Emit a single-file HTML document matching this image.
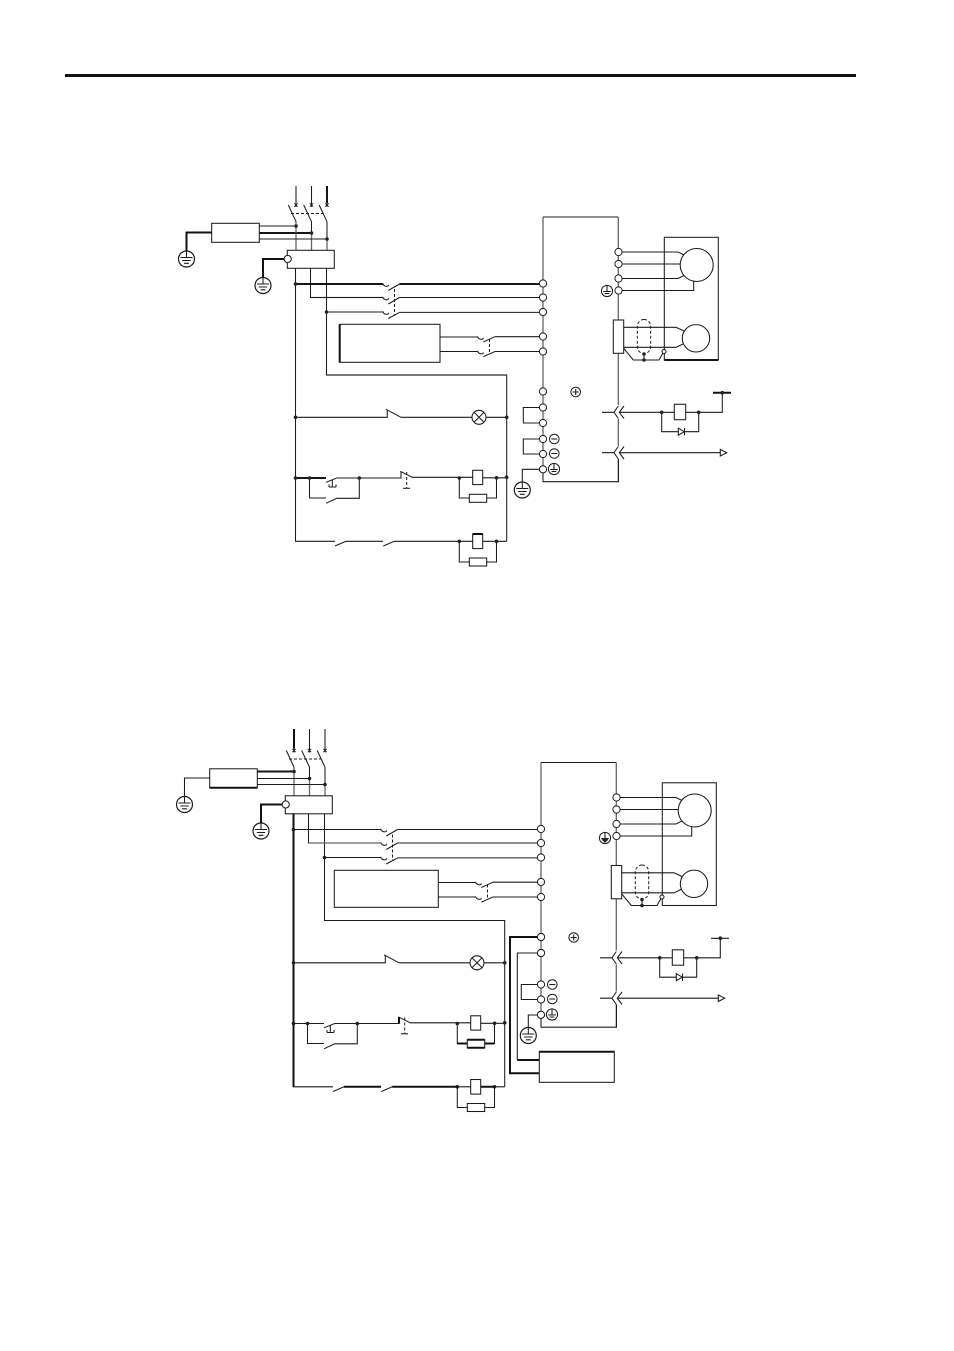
<!DOCTYPE html>
<html lang="en">
<head>
<meta charset="utf-8">
<title>Wiring diagram</title>
<style>
html,body{margin:0;padding:0;background:#fff;}
svg{display:block;}
.w{fill:none;stroke:#1c1c1c;stroke-width:1.05;stroke-linejoin:miter;}
.g{fill:none;stroke:#666;stroke-width:1.3;}
.t{fill:none;stroke:#111;stroke-width:2;}
.b{fill:#fff;stroke:#1c1c1c;stroke-width:1.05;}
.d{fill:none;stroke:#1c1c1c;stroke-width:1;stroke-dasharray:3 2;}
.n{fill:#222;stroke:none;}
</style>
</head>
<body>
<svg xmlns="http://www.w3.org/2000/svg" width="954" height="1351" viewBox="0 0 954 1351">
<defs>
  <g id="gnd">
    <circle r="8" fill="#fff" stroke="#1c1c1c" stroke-width="1.2"/>
    <path class="w" d="M0 -8V-1.5M-6 -1.5H6M-4.2 1.5H4.2M-2.4 4.3H2.4" stroke-width="1.2"/>
  </g>
  <g id="sg">
    <circle r="5.6" fill="#fff" stroke="#1c1c1c"/>
    <path class="w" d="M0 -5.5V0.5M-3.8 0.5H3.8M-2.4 2.5H2.4"/>
  </g>
  <circle id="c" r="3.6" fill="#fff" stroke="#1c1c1c" stroke-width="1"/>
  <circle id="nd" r="1.8" fill="#222"/>
  <g id="minus"><circle r="4.8" fill="#fff" stroke="#1c1c1c"/><path class="w" d="M-3 0H3"/></g>
  <g id="plus"><circle r="4.8" fill="#fff" stroke="#1c1c1c"/><path class="w" d="M-3 0H3M0 -3V3"/></g>
  <path id="star" d="M-1.7 -1.7L1.7 1.7M1.7 -1.7L-1.7 1.7M0 -2V2" fill="none" stroke="#1c1c1c" stroke-width="0.9"/>
  <path id="curl" d="M-3 -1.5Q-2 1.8 1.5 1.5Q3.2 1 2.5 0" fill="none" stroke="#1c1c1c" stroke-width="1"/>

  <g id="common">
    <!-- phases -->
    <path class="w" d="M296 186V205M311.5 186V205M327 186V205"/>
    <path class="w" d="M288.3 205L296 221.7V226M303.7 205L311.5 221.7V233M319.2 205L327 221.7V239"/>
    <path class="g" d="M296 222V250M311.5 234V250M327 240V250"/>
    <path class="d" d="M291 213.5H323"/>
    <use href="#star" x="296" y="205"/><use href="#star" x="311.5" y="205"/><use href="#star" x="327" y="205"/>
    <!-- filter -->
    <path class="w" d="M259 226H296M259 233H311.5M259 239H327"/>
    <rect class="b" x="211.7" y="223.3" width="47.6" height="19"/>
    <rect class="b" x="287.3" y="250.3" width="47" height="18"/>
    <use href="#nd" x="296" y="226"/><use href="#nd" x="311.5" y="233"/><use href="#nd" x="327" y="239"/>
    <!-- buses -->
    <path class="w" d="M295.5 268V541.3H335M310.5 268V297.5H383M326.5 268V375H506.7V541.3"/>
    <path class="w" d="M295.5 284H383M326.5 312H383"/>
    <path class="w" d="M399.5 284H543M399.5 297.5H543M399.5 312.4H543"/>
    <path class="w" d="M388.3 290.5L399.5 284M388.3 304L399.5 297.5M388.3 318.5L399.5 312.4"/>
    <path class="d" d="M394.5 289V315"/>
    <use href="#curl" x="385.7" y="284.8"/><use href="#curl" x="385.7" y="298.3"/><use href="#curl" x="385.7" y="312.8"/>
    <use href="#nd" x="295.5" y="284"/><use href="#nd" x="326.5" y="312"/>
    <!-- relay contacts from controller -->
    <path class="w" d="M440 337H478M440 351.5H478M495 336.7H543M495 351.5H543"/>
    <path class="w" d="M483.3 342L495 336.7M483.3 356.7L495 351.5"/>
    <path class="d" d="M489.5 339V354"/>
    <use href="#curl" x="480.5" y="337.8"/><use href="#curl" x="480.5" y="352.3"/>
    <!-- main box -->
    <path class="g" d="M543 469V217"/>
    <path class="w" d="M543 217H618.3"/>
    <path class="g" d="M618.3 217V320M618.3 353V405M618.3 419V446M618.3 459V481"/>
    <path class="w" d="M543 469V481.7H618.5V459"/>
    <!-- motor -->
    <path class="w" d="M622 252H678L684 255M622 264H680M622 278.5H678L684 275.5M622 290.5H693.7V281"/>
    <rect x="664.3" y="237.3" width="54" height="122.7" class="w"/>
    <circle class="b" cx="696.7" cy="265" r="16.5"/>
    <!-- encoder -->
    <path class="w" d="M623.7 327.3H676L684 331M623.7 347.3H676L684 343.5"/>
    <path class="w" d="M623.7 348.3L633.3 360H659L663 353M644 354V360"/>
    <rect class="b" x="613.3" y="320" width="10.4" height="33.3"/>
    <circle class="b" cx="696" cy="338.3" r="13.7"/>
    <rect x="637.3" y="319.5" width="13.4" height="34" rx="6.7" ry="6.7" class="d"/>
    <circle class="b" cx="664" cy="351.5" r="2"/>
    <use href="#nd" x="644" y="354"/><use href="#nd" x="644" y="360"/>
    <!-- Jumpers -->
    <path class="w" d="M540 439H523.3V454H540"/>
    <!-- terminals left -->
    <use href="#c" x="543" y="283.5"/><use href="#c" x="543" y="297.5"/><use href="#c" x="543" y="312"/>
    <use href="#c" x="543" y="336.5"/><use href="#c" x="543" y="351.5"/><use href="#c" x="543" y="391.5"/>
    <use href="#c" x="543" y="407.5"/><use href="#c" x="543" y="439"/><use href="#c" x="543" y="454"/>
    <use href="#minus" x="554.3" y="439"/><use href="#minus" x="554.3" y="453.5"/><use href="#sg" x="554" y="469"/>
    <use href="#plus" x="575.7" y="392"/>
    <!-- terminals right -->
    <use href="#c" x="618.5" y="252"/><use href="#c" x="618.5" y="264"/><use href="#c" x="618.5" y="278.5"/><use href="#c" x="618.5" y="290.5"/>
    <!-- outputs right -->
    <path class="w" d="M602 412.3H614M618.3 406L614 412.3L618.3 418.5M624 406L619.3 412.3L624 418.5M619.3 412.3H674.3M685.7 412.3H722.3V392.7"/>
    <path class="w" d="M661.7 412.3V431.7H678M684.5 431.7H698.7V412.3"/>
    <path class="b" d="M678.3 428.2V435.2L684.3 431.7Z"/>
    <path class="w" d="M684.5 428V435.4"/>
    <rect class="b" x="674.3" y="404.3" width="11.4" height="15.4"/>
    <use href="#nd" x="661.7" y="412.3"/><use href="#nd" x="698.7" y="412.3"/><use href="#nd" x="722.3" y="392.7"/>
    <path class="w" d="M602 452.7H614M618.3 446.5L614 452.7L618.3 459M624 446.5L619.3 452.7L624 459M619.3 452.7H720"/>
    <path class="b" d="M720.3 449.5V456L726.7 452.7Z"/>
    <!-- rung 1 -->
    <path class="w" d="M295.5 417.3H387.3V409.5M386 409.3L401 417.3M401 417.3H472M486 417.3H506.7"/>
    <circle class="b" cx="479" cy="417.3" r="7"/>
    <path class="w" d="M474 412.3L484 422.3M484 412.3L474 422.3"/>
    <use href="#nd" x="295.5" y="417.3"/><use href="#nd" x="506.7" y="417.3"/>
    <!-- rung 2 -->
    <path class="w" d="M295.5 478H326M326 482.3L336.7 478H359.3M359.3 478H401V471.5M400.3 471.3L412.3 477.3H472.7M482.7 477.8H506.7"/>
    <path class="w" d="M309.5 478V498H326M326 503.3L336.7 498.3H359.3V478"/>
    <path class="w" d="M332.3 480V486.5M329 487V484.5M336 487V484.5M329 487H336"/>
    <path class="d" d="M406.7 472V488" stroke-dasharray="2 1.5"/>
    <path class="w" d="M403 488.3H410"/>
    <path class="w" d="M459.3 478V498H469.3M486.7 498H496.5V478"/>
    <rect class="b" x="472.7" y="470.3" width="10" height="14.3"/>
    <rect class="b" x="469.3" y="494.3" width="17.4" height="8"/>
    <use href="#nd" x="295.5" y="478"/><use href="#nd" x="309.5" y="478"/><use href="#nd" x="359.3" y="478"/>
    <use href="#nd" x="459.3" y="478"/><use href="#nd" x="496.5" y="477.8"/><use href="#nd" x="506.7" y="477.3"/>
    <!-- rung 3 -->
    <path class="w" d="M335 546L346 541.3H383M383.3 546L394.3 541.3H472.7M482.7 541.3H506.7"/>
    <path class="w" d="M459.3 541.3V562H469.3M486.7 562H496.5V541.3"/>
    <rect class="b" x="472.7" y="534" width="10" height="14.6"/>
    <rect class="b" x="469.3" y="558" width="17.4" height="8"/>
    <use href="#nd" x="459.3" y="541.3"/><use href="#nd" x="496.5" y="541.3"/>
    <!-- grounds with circle on filter box -->
    <use href="#gnd" x="186.5" y="259"/>
    <use href="#gnd" x="263" y="285.5"/>
  </g>
</defs>

<!-- Top rule -->
<rect x="65" y="74" width="791" height="3" fill="#111"/>

<!-- ===== upper diagram ===== -->
<g>
  <path class="t" d="M186.5 251V232.5H212" />
  <path class="t" d="M259 233H311.5" stroke-width="1.8"/>
  <path class="t" d="M263 277V259H284" stroke-width="1.4"/>
  <path class="w" d="M543 407.5H523.3V423H540"/>
  <path class="t" d="M295.5 284H383M399.5 284H540" stroke-width="1.8"/>
  <path class="t" d="M295.5 478H326" stroke-width="1.8"/>
  <path class="t" d="M327 186V203" stroke-width="1.5"/>
  <path class="t" d="M713 392.7H731" stroke-width="1.6"/>
  <path class="t" d="M664.3 360H718.3" stroke-width="1.8"/>
  <path class="g" d="M326.5 375H506.7M310.5 297.5H383"/>
  <path class="w" d="M540 469.3H522.3V482"/>
  <use href="#common"/>
  <use href="#gnd" x="522.3" y="490"/>
  <use href="#c" x="543" y="469.3"/>
  <path class="t" d="M472.7 534H482.7" stroke-width="1.6"/>
  <use href="#c" x="543" y="423"/>
  <circle class="b" cx="287.7" cy="259" r="3.6"/>
  <use href="#sg" x="607" y="291"/>
  <rect x="339.7" y="324.3" width="100.3" height="38" class="b"/>
  <path class="t" d="M339.7 324.3V362.3" stroke-width="1.5"/>
</g>

<!-- ===== lower diagram ===== -->
<g transform="translate(-2 545.5)">
  <path class="w" d="M186.5 251V232.5H212"/>
  <path class="t" d="M259 226H296" stroke-width="1.8"/>
  <path class="t" d="M263 277V259H284" stroke-width="1.6"/>
  <use href="#common"/>
  <path class="w" d="M296 183.5V186M311.5 183.5V186M327 183.5V186"/>
  <path class="t" d="M296 183.5V203" stroke-width="1.5"/>
  <path class="t" d="M295.5 268V541.3" stroke-width="1.8"/>
  <path class="t" d="M346 541.3H383M394.3 541.3H459.3M482.7 541.3H496.5" stroke-width="1.6"/>
  <path class="t" d="M459.3 498H469.3M486.7 498H496.5" stroke-width="1.6"/>
  <path class="t" d="M469.3 494.3H486.7M469.3 502.3H486.7" stroke-width="1.5"/>
  <path class="t" d="M211.7 242.3H259.3" stroke-width="1.5"/>
  <path class="t" d="M401 471.5V478" stroke-width="1.4"/>
  <circle class="b" cx="287.7" cy="259" r="3.6"/>
  <use href="#sg" x="607" y="292.5"/>
  <path d="M603.5 293.5H610.5L607 297.5Z" fill="#222"/>
  <path class="g" d="M310.5 297.5H383"/>
</g>

<!-- extras for the lower diagram in page coordinates -->
<path class="w" d="M711 938.3H729"/>
<rect x="334.3" y="870.3" width="104" height="37" class="b"/>
<path class="t" d="M541 937H510V1073.3H539.3" stroke-width="2"/>
<path class="w" d="M541 953H517.3V1060"/>
<path class="t" d="M517.3 1060H539.3" stroke-width="1.8"/>
<rect x="539.3" y="1051.7" width="75" height="30.6" class="b"/>
<path class="t" d="M539.3 1051.7H614.3" stroke-width="1.6"/>
<path class="w" d="M538 1015H528.3V1027"/>
<use href="#gnd" x="528.3" y="1035.5"/>
<use href="#c" x="541" y="937"/>
<use href="#c" x="541" y="953"/>
<use href="#c" x="541" y="1014.8"/>
</svg>
</body>
</html>
